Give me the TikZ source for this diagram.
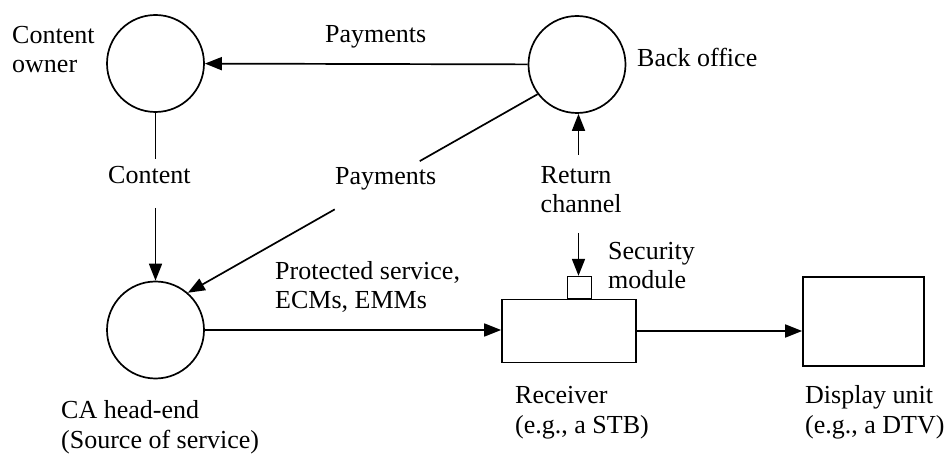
\documentclass[tikz,border=0pt]{standalone}
\usepackage{fontspec}
\setmainfont{Liberation Serif}
\usetikzlibrary{arrows.meta}
\begin{document}
\begin{tikzpicture}[x=1pt,y=-1pt,
  every node/.style={font=\fontsize{26}{29.5}\selectfont},
  party/.style={draw, circle, line width=1.7pt, minimum size=97pt, inner sep=0pt},
  boxunit/.style={draw, rectangle, line width=1.7pt, inner sep=0pt},
  lbl/.style={inner sep=0pt, align=left},
  wire/.style={line width=1.7pt},
  flow/.style={wire, -{Triangle[length=17pt,width=13pt]}}]
\useasboundingbox (0,0) rectangle (948,454);

% parties and equipment
\node[party] (co) at (155.5,63.5) {};
\node[party] (bo) at (577,64.5) {};
\node[party] (ca) at (155.5,330) {};
\node[boxunit, minimum width=134pt, minimum height=63pt] (rx) at (569,331) {};
\node[boxunit, minimum width=24pt, minimum height=22pt, anchor=south] (sm) at (579.5,299.5) {};
\node[boxunit, minimum width=121pt, minimum height=89pt] (du) at (863.5,321.5) {};

% texts (base anchor sits on the last line)
\node[lbl, anchor=base west] (coT) at (12,73) {Content\\owner};
\node[lbl, anchor=base west] (boT) at (637,67) {Back office};
\node[lbl, anchor=base west] (payT) at (325,43) {Payments};
\node[lbl, anchor=base west] (cntT) at (108,184) {Content};
\node[lbl, anchor=base west] (pay2T) at (335,185) {Payments};
\node[lbl, anchor=base west] (rcT) at (540.5,213) {Return\\channel};
\node[lbl, anchor=base west] (smT) at (608,289) {Security\\module};
\node[lbl, anchor=base west] (psT) at (275,309) {Protected service,\\ECMs, EMMs};
\node[lbl, anchor=base west] (rxT) at (515,433) {Receiver\\(e.g., a STB)};
\node[lbl, anchor=base west] (caT) at (61,448) {CA head-end\\(Source of service)};
\node[lbl, anchor=base west] (duT) at (805,433) {Display unit\\(e.g., a DTV)};

% payments to the content owner
\draw[flow] (bo) -- (co);

% content to the head-end, broken by its text
\coordinate (c1) at (155.5,159);
\coordinate (c2) at (155.5,208);
\draw[wire] (co) -- (c1);
\draw[flow] (c2) -- (ca);

% payments to the head-end, broken by its text
\path (bo.217) -- (ca.49) coordinate[pos=0.337] (p1) coordinate[pos=0.58] (p2);
\draw[wire] (bo.217) -- (p1);
\draw[flow] (p2) -- (ca.49);

% return channel
\coordinate (r1) at (578.5,155);
\coordinate (r2) at (578.5,233);
\draw[flow] (r1) -- (r1 |- bo.south);
\draw[flow] (r2) -- (r2 |- sm.north);

% service path
\draw[flow] (ca.east) -- (ca.east -| rx.west);
\draw[flow] (rx.east) -- (rx.east -| du.west);
\end{tikzpicture}
\end{document}
